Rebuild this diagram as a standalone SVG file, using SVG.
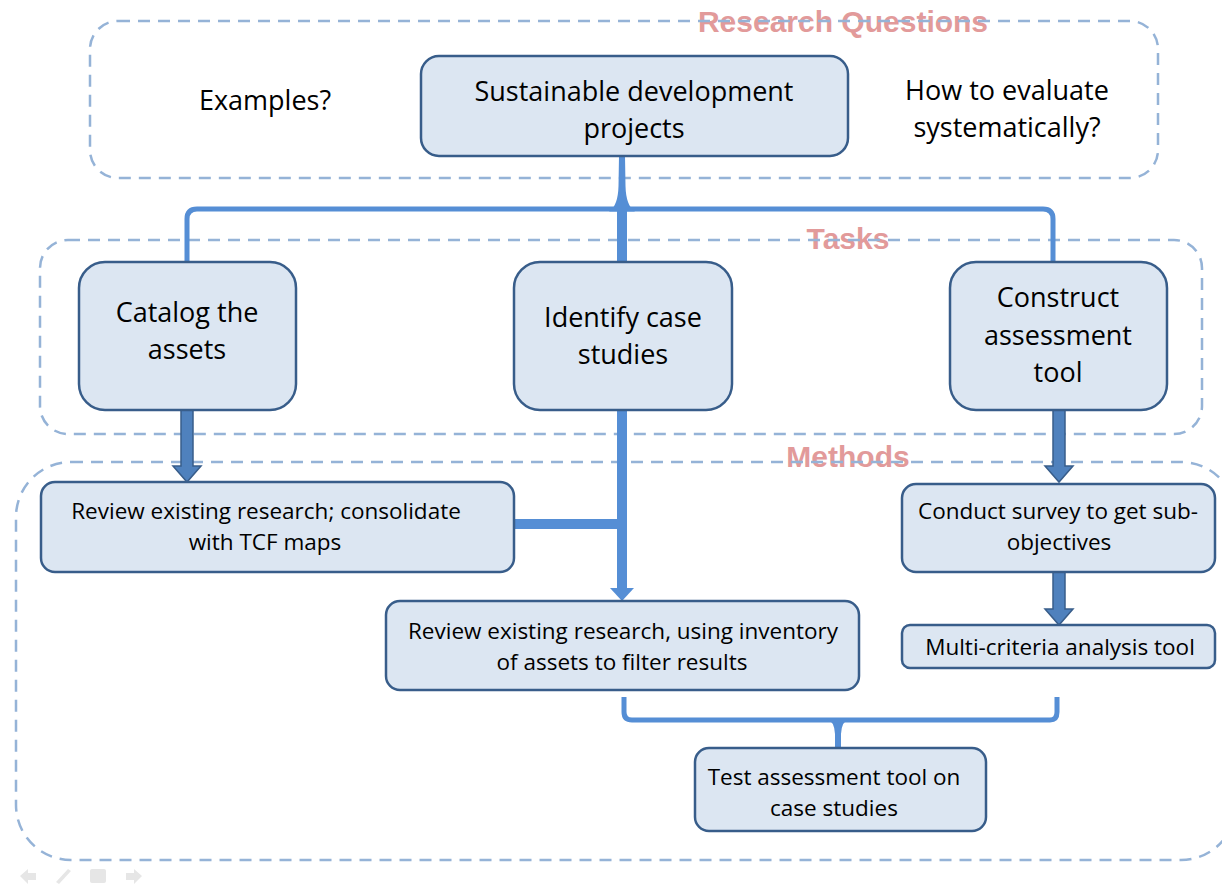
<svg xmlns="http://www.w3.org/2000/svg" width="1222" height="884" viewBox="0 0 1222 884">
<style>
.frame{fill:none;stroke:#95B3D7;stroke-width:2.5;stroke-dasharray:12 8}
.title{font-family:"Liberation Sans",Arial,sans-serif;font-weight:bold;fill:#E29A9A;text-anchor:middle;font-size:30px}
.node rect{fill:#DCE6F2;stroke:#385D8A;stroke-width:2.5}
.t{font-family:"Open Sans","Liberation Sans",sans-serif;fill:#000;text-anchor:middle}
.big{font-size:27px}
.small{font-size:22.5px}
.conn{fill:none;stroke:#558ED5;stroke-width:5}
.connf{fill:#558ED5}
.barrow{fill:#4F81BD;stroke:#385D8A;stroke-width:1.5}
.icon{fill:#E6E6E6}
</style>
<rect width="1222" height="884" fill="#FFFFFF"/>
<g id="titles">
<text class="title" x="843" y="32">Research Questions</text>
<text class="title" x="848" y="249">Tasks</text>
<text class="title" x="848" y="467">Methods</text>
</g>
<g id="frames">
<rect class="frame" x="90" y="21" width="1068" height="157" rx="28"/>
<rect class="frame" x="40" y="240" width="1162" height="194" rx="28"/>
<rect class="frame" x="16" y="462" width="1220" height="398" rx="55"/>
</g>
<g id="connectors">
<path class="conn" d="M187 262 V219 Q187 209 197 209 H1043 Q1053 209 1053 219 V262"/>
<path class="connf" d="M609 211.5 Q618 206 618.5 186 L619 156 L625 156 L625.5 186 Q626 206 635 211.5 Z"/>
<rect class="connf" x="617" y="209" width="10" height="53"/>
<rect class="connf" x="617" y="410" width="10" height="179"/>
<polygon class="connf" points="610,588 634,588 622,601"/>
<rect class="connf" x="514" y="519" width="108" height="10"/>
<path class="conn" d="M624 697 V712 Q624 720 632 720 H1050 Q1057 720 1057 712 V697"/>
<path class="connf" d="M826 718.5 Q834.5 721 835 734 L835 748 L841 748 L841 734 Q841.5 721 850 718.5 Z"/>
<path class="barrow" d="M181 410 H193 V466 H201 L187 482 L173 466 H181 Z"/>
<path class="barrow" d="M1053 410 H1065 V466 H1073 L1059 482 L1045 466 H1053 Z"/>
<path class="barrow" d="M1053 572 H1065 V609 H1073 L1059 625 L1045 609 H1053 Z"/>
</g>
<g id="q-examples"><text class="t big" x="265" y="110">Examples?</text></g>
<g id="q-evaluate"><text class="t big" x="1007" y="100">How to evaluate</text><text class="t big" x="1007" y="137">systematically?</text></g>
<g id="n-sustainable" class="node"><rect x="421" y="56" width="427" height="100" rx="18"/><text class="t big" x="634" y="101">Sustainable development</text><text class="t big" x="634" y="138">projects</text></g>
<g id="n-catalog" class="node"><rect x="79" y="262" width="217" height="148" rx="26"/><text class="t big" x="187" y="322">Catalog the</text><text class="t big" x="187" y="359">assets</text></g>
<g id="n-identify" class="node"><rect x="514" y="262" width="218" height="148" rx="26"/><text class="t big" x="623" y="327">Identify case</text><text class="t big" x="623" y="364">studies</text></g>
<g id="n-construct" class="node"><rect x="950" y="262" width="217" height="148" rx="26"/><text class="t big" x="1058" y="307">Construct</text><text class="t big" x="1058" y="345">assessment</text><text class="t big" x="1058" y="382">tool</text></g>
<g id="n-review1" class="node"><rect x="41" y="482" width="473" height="90" rx="14"/><text class="t small" x="266" y="519">Review existing research; consolidate</text><text class="t small" x="265" y="550">with TCF maps</text></g>
<g id="n-review2" class="node"><rect x="386" y="601" width="473" height="89" rx="14"/><text class="t small" x="623" y="639">Review existing research, using inventory</text><text class="t small" x="622" y="670">of assets to filter results</text></g>
<g id="n-survey" class="node"><rect x="902" y="484" width="313" height="88" rx="14"/><text class="t small" x="1058" y="519">Conduct survey to get sub-</text><text class="t small" x="1059" y="550">objectives</text></g>
<g id="n-mca" class="node"><rect x="902" y="625" width="313" height="43" rx="8"/><text class="t small" x="1060" y="655">Multi-criteria analysis tool</text></g>
<g id="n-test" class="node"><rect x="695" y="748" width="291" height="83" rx="14"/><text class="t small" x="834" y="785">Test assessment tool on</text><text class="t small" x="834" y="816">case studies</text></g>
<g id="nav-icons">
<path class="icon" d="M20 876 L28 869 V873 H36 V880 H28 V884 Z"/>
<path class="icon" d="M56 882 L68 869 L71 871 L59 884 Z"/>
<rect class="icon" x="90" y="869" width="16" height="14" rx="2"/>
<path class="icon" d="M142 876 L134 869 V873 H126 V880 H134 V884 Z"/>
</g>
</svg>
